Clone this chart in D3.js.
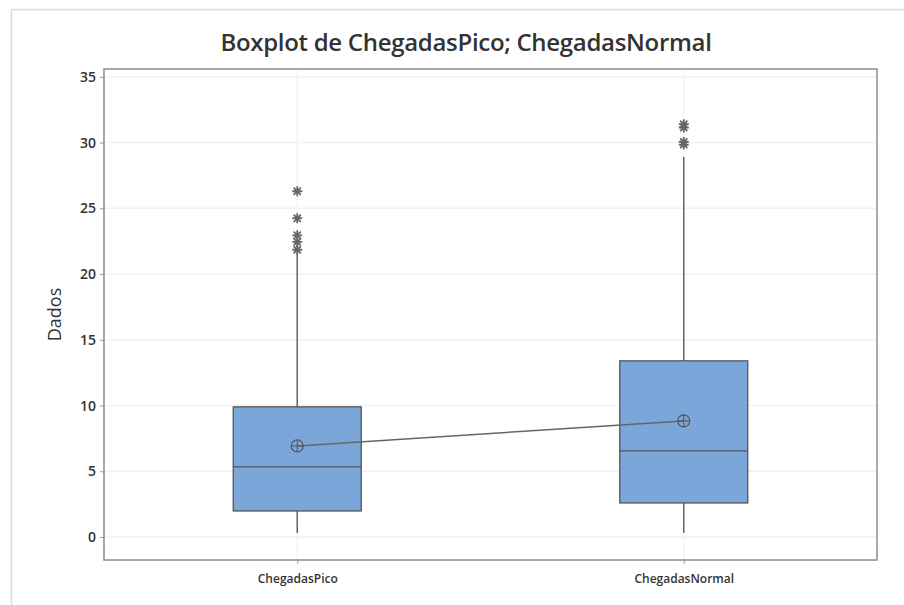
<!DOCTYPE html>
<meta charset="utf-8">
<style>
    body { margin: 0; background: #fff; }
    svg { display: block; font-family: "Open Sans", "Noto Sans", sans-serif; }
</style>
<script src="https://cdn.jsdelivr.net/npm/d3@7"></script>
<body>
<svg></svg>
</body>
<script>

    // data
    var categories = ['ChegadasPico', 'ChegadasNormal'];
    var q1 = [1.98, 2.59];
    var median = [5.33, 6.55];
    var q3 = [9.9, 13.4];
    var whiskerLow = [0.3, 0.3];
    var whiskerHigh = [21.6, 28.9];
    var means = [6.93, 8.83];
    var outliers = [
        [26.3, 24.25, 22.95, 22.45, 21.85],
        [31.4, 31.15, 30.05, 29.85]
    ];
    var yTicks = [0, 5, 10, 15, 20, 25, 30, 35];

    var W = 904, H = 605;
    var m = {left: 104, top: 69, right: 877, bottom: 560};

    var svg = d3.select('svg').attr('width', W).attr('height', H);

    // outer frame
    svg.append('path')
            .attr('d', 'M11.5,' + H + 'V9.5H' + W)
            .style('stroke', '#dcdcdc').style('stroke-width', 1.5).style('fill', 'none');

    var y = d3.scaleLinear().domain([-1.75, 35.6]).range([m.bottom, m.top]);
    var x = d3.scalePoint().domain(categories).range([m.left, m.right]).padding(0.5);
    var boxW = 128;

    // grid
    svg.append('g').selectAll('line').data(yTicks).enter().append('line')
            .attr('x1', m.left).attr('x2', m.right)
            .attr('y1', function (d) { return y(d); })
            .attr('y2', function (d) { return y(d); })
            .style('stroke', '#f1f1f1').style('stroke-width', 1.5);
    svg.append('g').selectAll('line').data(categories).enter().append('line')
            .attr('x1', function (d) { return x(d); }).attr('x2', function (d) { return x(d); })
            .attr('y1', m.top).attr('y2', m.bottom)
            .style('stroke', '#f4f4f4').style('stroke-width', 1.5);

    // axes
    var yAxis = svg.append('g').attr('transform', 'translate(' + m.left + ',0)')
            .call(d3.axisLeft(y).tickValues(yTicks).tickSize(4).tickPadding(4));
    var xAxis = svg.append('g').attr('transform', 'translate(0,' + m.bottom + ')')
            .call(d3.axisBottom(x).tickSize(4).tickPadding(10));
    svg.selectAll('.domain').remove();
    svg.selectAll('.tick line').style('stroke', '#999');
    yAxis.attr('font-family', null).attr('font-size', 14).attr('font-weight', 600);
    xAxis.attr('font-family', null).attr('font-size', 12).attr('font-weight', 600);
    svg.selectAll('.tick text').style('fill', '#333');

    svg.append('rect')
            .attr('x', m.left).attr('y', m.top)
            .attr('width', m.right - m.left).attr('height', m.bottom - m.top)
            .style('fill', 'none').style('stroke', '#8c8c8c').style('stroke-width', 1.5);

    var g = svg.append('g').selectAll('g').data(categories).enter().append('g');

    // whiskers
    g.append('line')
            .attr('x1', function (d) { return x(d); }).attr('x2', function (d) { return x(d); })
            .attr('y1', function (d, i) { return y(whiskerLow[i]); })
            .attr('y2', function (d, i) { return y(whiskerHigh[i]); })
            .style('stroke', '#666').style('stroke-width', 1.5);

    // boxes
    g.append('rect')
            .attr('x', function (d) { return x(d) - boxW / 2; })
            .attr('y', function (d, i) { return y(q3[i]); })
            .attr('width', boxW)
            .attr('height', function (d, i) { return y(q1[i]) - y(q3[i]); })
            .style('fill', '#7ba6d9').style('stroke', '#555').style('stroke-width', 1.3);

    g.append('line')
            .attr('x1', function (d) { return x(d) - boxW / 2; })
            .attr('x2', function (d) { return x(d) + boxW / 2; })
            .attr('y1', function (d, i) { return y(median[i]); })
            .attr('y2', function (d, i) { return y(median[i]); })
            .style('stroke', '#555').style('stroke-width', 1.3);

    // outliers as 8-point asterisks
    var starD = 'M-5,0H5M0,-5V5M-3.6,-3.6L3.6,3.6M-3.6,3.6L3.6,-3.6';
    g.each(function (d, i) {
        d3.select(this).selectAll('path.out').data(outliers[i]).enter().append('path')
                .attr('class', 'out')
                .attr('d', starD)
                .attr('transform', function (v) { return 'translate(' + x(d) + ',' + y(v) + ')'; })
                .style('stroke', '#666').style('stroke-width', 1.8).style('fill', 'none');
    });

    // mean connect line
    var line = d3.line()
            .x(function (d, i) { return x(categories[i]); })
            .y(function (d) { return y(d); });
    svg.append('path').datum(means).attr('d', line)
            .style('stroke', '#666').style('stroke-width', 1.5).style('fill', 'none');

    var mg = svg.append('g').selectAll('g').data(means).enter().append('g')
            .attr('transform', function (d, i) { return 'translate(' + x(categories[i]) + ',' + y(d) + ')'; });
    mg.append('circle').attr('r', 6)
            .style('fill', 'none').style('stroke', '#555').style('stroke-width', 1.2);
    mg.append('path').attr('d', 'M-6,0H6M0,-6V6')
            .style('stroke', '#555').style('stroke-width', 1);

    // titles
    svg.append('text')
            .attr('x', 466).attr('y', 51)
            .attr('text-anchor', 'middle')
            .style('font-size', '24px').style('font-weight', 600)
            .style('letter-spacing', '-0.3px').style('fill', '#333')
            .text('Boxplot de ChegadasPico; ChegadasNormal');

    svg.append('text')
            .attr('transform', 'translate(61,' + ((m.top + m.bottom) / 2) + ') rotate(-90)')
            .attr('text-anchor', 'middle')
            .style('font-size', '18px').style('font-weight', 500).style('fill', '#333')
            .text('Dados');

</script>
